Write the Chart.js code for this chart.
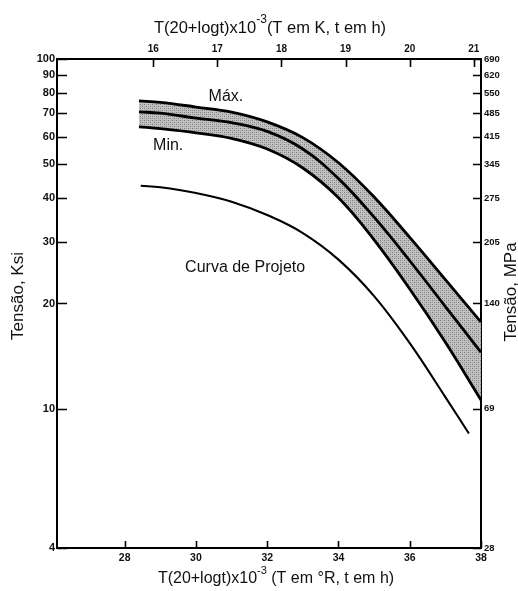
<!DOCTYPE html>
<html>
<head>
<meta charset="utf-8">
<script src="https://cdn.jsdelivr.net/npm/chart.js@4.4.1/dist/chart.umd.min.js"></script>
<style>
  html, body { margin: 0; padding: 0; background: #fff; }
  canvas { display: block; }
</style>
</head>
<body>
<canvas id="creep" width="518" height="591"></canvas>
<script>
// Larson-Miller parameter: °R scale on the bottom, K scale on the top
const xMinR = 26.1;
const xMaxR = 38;
const xTicksR = [28, 30, 32, 34, 36, 38];
const xTicksK = [16, 17, 18, 19, 20, 21];

// stress axes: ksi on the left, MPa labels on the right
const stressTicksKsi = [4, 10, 20, 30, 40, 50, 60, 70, 80, 90, 100];
const stressTicksMPa = ['28', '69', '140', '205', '275', '345', '415', '485', '550', '620', '690'];

// scatter band (max / mean / min)
const bandX = [28.4, 29, 30, 31, 32, 33, 34, 35, 36, 37, 38];
const maxKsi = [75.9, 75.2, 72.9, 70.5, 66.1, 59.6, 50.5, 40.3, 30.9, 23.4, 17.7];
const midKsi = [70.6, 70.0, 67.8, 65.8, 62.1, 55.3, 45.5, 35.3, 26.5, 19.6, 14.5];
const minKsi = [64.0, 63.2, 61.5, 59.3, 55.3, 48.8, 40.1, 30.4, 22.0, 15.5, 10.6];

// design curve
const designX = [28.45, 29, 30, 31, 32, 33, 34, 35, 36, 37, 37.66];
const designKsi = [43.4, 43.0, 41.4, 39.1, 35.8, 31.8, 26.7, 21.0, 15.4, 10.8, 8.5];

const FONT = '"Liberation Sans", Arial, Helvetica, sans-serif';

const pts = (xs, ys) => xs.map((x, i) => ({ x: x, y: ys[i] }));

function stipple(ctx) {
    const c = document.createElement('canvas');
    c.width = 4;
    c.height = 4;
    const g = c.getContext('2d');
    g.fillStyle = '#c2c2c2';
    g.fillRect(0, 0, 4, 4);
    g.fillStyle = '#7a7a7a';
    g.fillRect(0, 0, 1, 1);
    g.fillRect(2, 2, 1, 1);
    g.fillStyle = '#9c9c9c';
    g.fillRect(2, 0, 1, 1);
    g.fillRect(0, 2, 1, 1);
    return ctx.createPattern(c, 'repeat');
}

function paramTitle(ctx, cx, cy, size, head, tail) {
    const big = size + 'px ' + FONT;
    const small = Math.round(size * 0.7) + 'px ' + FONT;
    ctx.font = big;
    const wa = ctx.measureText(head).width;
    const wb = ctx.measureText(tail).width;
    ctx.font = small;
    const ws = ctx.measureText('-3').width;
    let x = cx - (wa + ws + wb) / 2;
    ctx.textAlign = 'left';
    ctx.textBaseline = 'middle';
    ctx.font = big;
    ctx.fillText(head, x, cy);
    x += wa;
    ctx.font = small;
    ctx.fillText('-3', x, cy - size * 0.5);
    x += ws;
    ctx.font = big;
    ctx.fillText(tail, x, cy);
}

function vertTitle(ctx, cx, cy, size, text) {
    ctx.save();
    ctx.translate(cx, cy);
    ctx.rotate(-Math.PI / 2);
    ctx.font = size + 'px ' + FONT;
    ctx.textAlign = 'center';
    ctx.textBaseline = 'middle';
    ctx.fillText(text, 0, 0);
    ctx.restore();
}

// inward tick marks, axis titles and curve labels
const frame = {
    id: 'frame',
    afterDraw(chart) {
        const { ctx, chartArea: a, scales } = chart;
        ctx.save();
        ctx.strokeStyle = '#000';
        ctx.lineWidth = 1.6;
        ctx.beginPath();
        scales.y.ticks.forEach(t => {
            const p = Math.round(scales.y.getPixelForValue(t.value)) + 0.5;
            ctx.moveTo(a.left, p);
            ctx.lineTo(a.left + 10, p);
        });
        scales.y2.ticks.forEach(t => {
            const p = Math.round(scales.y2.getPixelForValue(t.value)) + 0.5;
            ctx.moveTo(a.right, p);
            ctx.lineTo(a.right - 8, p);
        });
        scales.x.ticks.forEach(t => {
            const p = Math.round(scales.x.getPixelForValue(t.value)) + 0.5;
            ctx.moveTo(p, a.bottom);
            ctx.lineTo(p, a.bottom - 7);
        });
        scales.x2.ticks.forEach(t => {
            const p = Math.round(scales.x2.getPixelForValue(t.value)) + 0.5;
            ctx.moveTo(p, a.top);
            ctx.lineTo(p, a.top + 8);
        });
        ctx.stroke();

        ctx.fillStyle = '#111';
        paramTitle(ctx, 270, 28, 16.5, 'T(20+logt)x10', '(T em K, t em h)');
        paramTitle(ctx, 276, 579, 16, 'T(20+logt)x10', ' (T em °R, t em h)');
        vertTitle(ctx, 18, 296, 17, 'Tensão, Ksi');
        vertTitle(ctx, 511, 292, 17, 'Tensão, MPa');

        ctx.font = '16px ' + FONT;
        ctx.textAlign = 'center';
        ctx.textBaseline = 'middle';
        const label = (text, x, y) => {
            ctx.fillText(text, scales.x.getPixelForValue(x), scales.y.getPixelForValue(y));
        };
        label('Máx.', 30.84, 77.9);
        label('Min.', 29.22, 56.5);
        label('Curva de Projeto', 31.38, 25.3);
        ctx.restore();
    }
};

const tickFont = size => ({ family: FONT, size: size, weight: 'bold' });
const noGrid = { display: false, drawTicks: false };
const axisLine = { display: true, color: '#000', width: 2 };

const ctx = document.getElementById('creep').getContext('2d');
const band = stipple(ctx);

const curve = (label, xs, ys, width, extra) => Object.assign({
    label: label, data: pts(xs, ys), borderColor: '#000', borderWidth: width,
    pointRadius: 0, tension: 0.4, fill: false
}, extra || {});

new Chart(ctx, {
    type: 'line',
    data: {
        datasets: [
            curve('Máx.', bandX, maxKsi, 2.8, { fill: 2, backgroundColor: band }),
            curve('Média', bandX, midKsi, 2.8),
            curve('Min.', bandX, minKsi, 2.8),
            curve('Curva de Projeto', designX, designKsi, 2.1)
        ]
    },
    options: {
        responsive: false,
        animation: false,
        events: [],
        layout: { padding: 0 },
        plugins: {
            legend: { display: false },
            tooltip: { enabled: false },
            filler: { drawTime: 'beforeDatasetsDraw' }
        },
        scales: {
            x: {
                type: 'linear', position: 'bottom', min: xMinR, max: xMaxR,
                afterBuildTicks: s => { s.ticks = xTicksR.map(v => ({ value: v })); },
                afterFit: s => { s.height = 43; },
                ticks: { callback: v => String(v), font: tickFont(10.5), color: '#111', padding: 4, maxRotation: 0, autoSkip: false },
                grid: noGrid, border: axisLine
            },
            x2: {
                type: 'linear', position: 'top', min: xMinR / 1.8, max: xMaxR / 1.8,
                afterBuildTicks: s => { s.ticks = xTicksK.map(v => ({ value: v })); },
                afterFit: s => { s.height = 59; },
                ticks: { callback: v => String(v), font: tickFont(10), color: '#111', padding: 4, maxRotation: 0, autoSkip: false },
                grid: noGrid, border: axisLine
            },
            y: {
                type: 'logarithmic', position: 'left', min: 4, max: 100,
                afterBuildTicks: s => { s.ticks = stressTicksKsi.map(v => ({ value: v })); },
                afterFit: s => { s.width = 57; },
                ticks: { callback: v => String(v), font: tickFont(11), color: '#111', padding: 2, autoSkip: false },
                grid: noGrid, border: axisLine
            },
            y2: {
                type: 'logarithmic', position: 'right', min: 4, max: 100,
                afterBuildTicks: s => { s.ticks = stressTicksKsi.map(v => ({ value: v })); },
                afterFit: s => { s.width = 37; },
                ticks: { callback: v => stressTicksMPa[stressTicksKsi.indexOf(v)], font: tickFont(9.5), color: '#111', padding: 3, autoSkip: false },
                grid: noGrid, border: axisLine
            }
        }
    },
    plugins: [frame]
});
</script>
</body>
</html>
